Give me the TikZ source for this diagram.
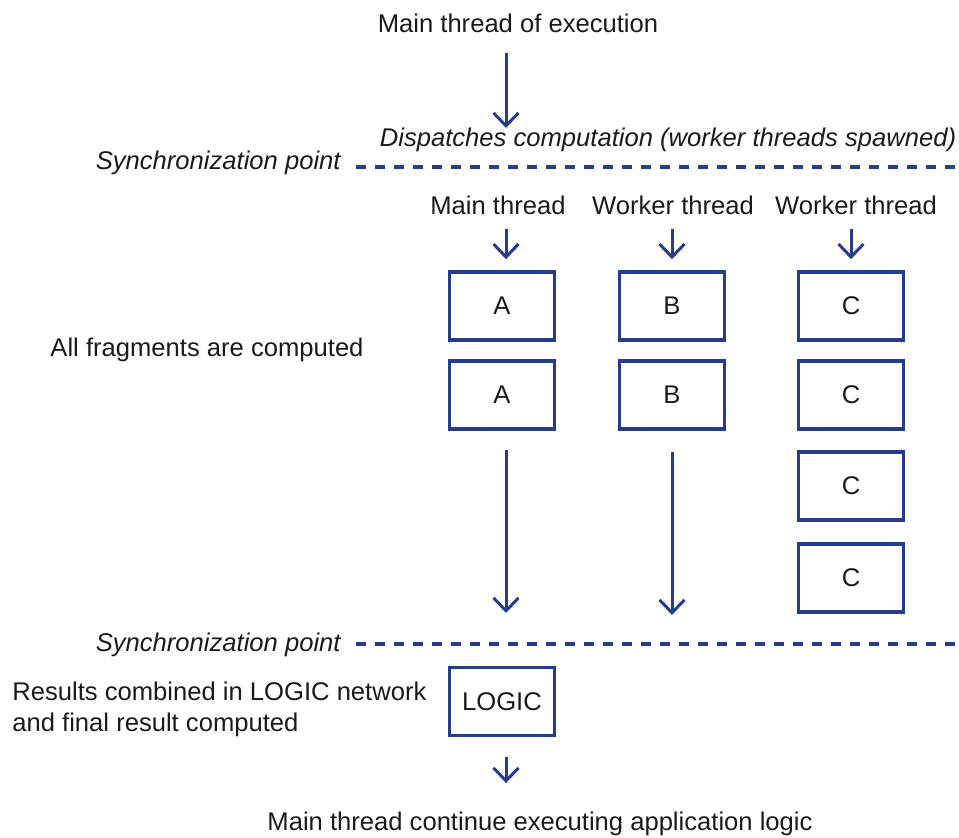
\documentclass[tikz,border=0pt]{standalone}
\usepackage{fontspec}
\setmainfont{Liberation Sans}
\usetikzlibrary{arrows.meta}
\definecolor{threadblue}{RGB}{38,60,140}
\definecolor{labelgray}{RGB}{26,26,26}

\begin{document}
\begin{tikzpicture}[x=0.5pt, y=-0.5pt, font=\fontsize{12.8}{15.5}\selectfont, text=labelgray,
    frag/.style={draw=threadblue, line width=1.8pt, minimum width=52.5pt, minimum height=34pt, inner sep=0pt},
    lbl/.style={inner sep=0pt, anchor=base},
    flow/.style={draw=threadblue, line width=1.5pt, -{Straight Barb[length=6.5pt, width=12.5pt]}},
    syncline/.style={draw=threadblue, line width=1.7pt, dash pattern=on 4.8pt off 4.7pt}]
    \useasboundingbox (0,0) rectangle (959,838);

    \node[lbl] (title) at (518,33) {Main thread of execution};
    \node[lbl] (dispatch) at (668,147) {\itshape Dispatches computation (worker threads spawned)};
    \coordinate (mainin) at (506,128);
    \draw[flow, shorten <=9.5pt] (title.south -| mainin) -- (mainin);

    % first synchronization point
    \node[lbl, anchor=base east] (syncA) at (341,170) {\itshape Synchronization point};
    \coordinate (syncAl) at (356,167);
    \coordinate (syncAr) at (959,167);
    \draw[syncline] (syncAl) -- (syncAr);

    \node[lbl] (hdrA) at (498,215) {Main thread};
    \node[lbl] (hdrB) at (673,215) {Worker thread};
    \node[lbl] (hdrC) at (856,215) {Worker thread};

    \node[frag] (fragA1) at (502,306) {A};
    \node[frag] (fragA2) at (502,395) {A};
    \node[frag] (fragB1) at (672,306) {B};
    \node[frag] (fragB2) at (672,395) {B};
    \node[frag] (fragC1) at (851,306) {C};
    \node[frag] (fragC2) at (851,395) {C};
    \node[frag] (fragC3) at (851,486) {C};
    \node[frag] (fragC4) at (851,578) {C};

    \draw[flow, shorten <=6.5pt, shorten >=5.5pt] ([xshift=2pt]hdrA.south -| fragA1) -- ([xshift=2pt]fragA1.north);
    \draw[flow, shorten <=6.5pt, shorten >=5.5pt] (hdrB.south -| fragB1) -- (fragB1.north);
    \draw[flow, shorten <=6.5pt, shorten >=5.5pt] (hdrC.south -| fragC1) -- (fragC1.north);

    \node[lbl] (allfrag) at (207,357) {All fragments are computed};

    \coordinate (endA) at (506,613);
    \coordinate (endB) at (672,615);
    \draw[flow, shorten <=9.5pt] (fragA2.south -| endA) -- (endA);
    \draw[flow, shorten <=10.5pt] (fragB2.south) -- (endB);

    % second synchronization point
    \node[lbl, anchor=base east] (syncB) at (341,652) {\itshape Synchronization point};
    \coordinate (syncBl) at (356,644);
    \coordinate (syncBr) at (959,644);
    \draw[syncline] (syncBl) -- (syncBr);

    \node[frag] (logic) at (502,701.5) {LOGIC};
    \node[inner sep=0pt, anchor=west, align=left] (combined) at (12,709)
        {Results combined in LOGIC network\\and final result computed};

    \node[lbl] (final) at (540,831) {Main thread continue executing application logic};
    \draw[flow, shorten <=10pt, shorten >=14.5pt] ([xshift=2pt]logic.south) -- ([xshift=2pt]logic.south |- final.north);
\end{tikzpicture}
\end{document}
